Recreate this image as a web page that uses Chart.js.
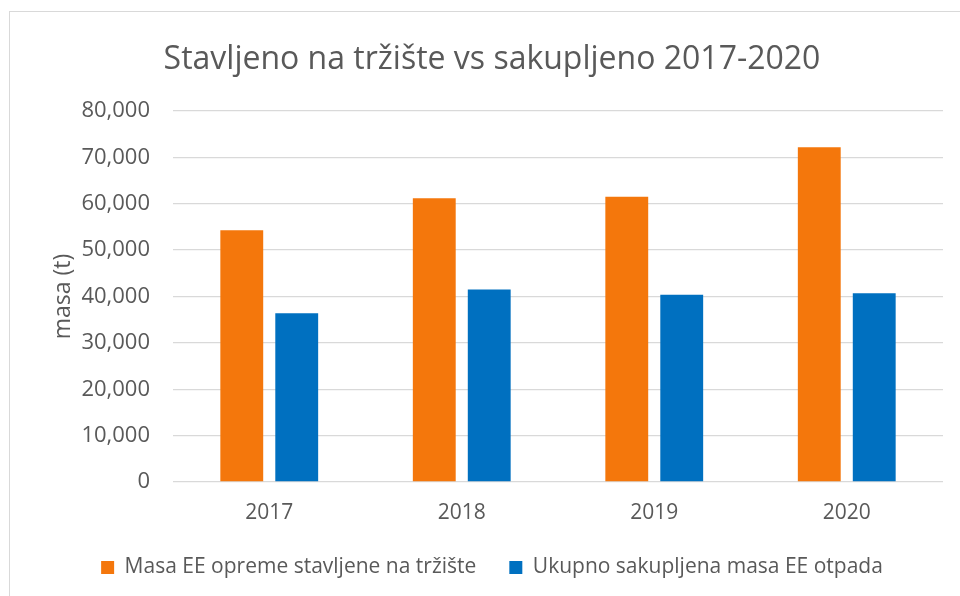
<!DOCTYPE html>
<html>
<head>
<meta charset="utf-8">
<script src="https://cdn.jsdelivr.net/npm/chart.js@4"></script>
<style>
  html, body { margin: 0; padding: 0; background: #fff; overflow: hidden; }
  #wrap { position: relative; width: 960px; height: 596px; }
  #frame { position: absolute; left: 9px; top: 11px; width: 1000px; height: 1000px; border: 1px solid #d9d9d9; box-sizing: border-box; pointer-events: none; }
</style>
</head>
<body>
<div id="wrap">
  <div id="frame"></div>
  <canvas id="c" width="960" height="596"></canvas>
</div>
<script>
const categories = ['2017', '2018', '2019', '2020'];
const seriesNames = ['Masa EE opreme stavljene na tržište', 'Ukupno sakupljena masa EE otpada'];
const placedOnMarket = [54300, 61200, 61500, 72200];
const collected = [36400, 41500, 40400, 40700];
const yTicks = [0, 10000, 20000, 30000, 40000, 50000, 60000, 70000, 80000];
const chartTitle = 'Stavljeno na tržište vs sakupljeno 2017-2020';
const yAxisTitle = 'masa (t)';

const FONT = "'Open Sans', 'DejaVu Sans', sans-serif";
const TEXT = '#595959';
const GRID = '#d9d9d9';

new Chart(document.getElementById('c'), {
  type: 'bar',
  data: {
    labels: categories,
    datasets: [
      { label: seriesNames[0], data: placedOnMarket, backgroundColor: '#F4770C', borderWidth: 0,
        barPercentage: 0.78, categoryPercentage: 0.571 },
      { label: seriesNames[1], data: collected, backgroundColor: '#0070C0', borderWidth: 0,
        barPercentage: 0.78, categoryPercentage: 0.571 }
    ]
  },
  options: {
    responsive: false,
    animation: false,
    devicePixelRatio: 1,
    layout: { padding: { left: 24, right: 0, top: 0, bottom: 8 } },
    plugins: {
      title: {
        display: true,
        text: chartTitle,
        color: TEXT,
        font: { family: FONT, size: 32, weight: 'normal', lineHeight: 1.2 },
        padding: { top: 41, bottom: 31.6 }
      },
      legend: {
        display: true,
        position: 'bottom',
        labels: {
          color: TEXT,
          font: { family: FONT, size: 21 },
          boxWidth: 13,
          boxHeight: 13,
          padding: 33
        }
      },
      tooltip: { enabled: false }
    },
    scales: {
      x: {
        grid: { display: false, drawTicks: false },
        border: { display: false },
        ticks: { color: TEXT, font: { family: FONT, size: 21 }, padding: 18, maxRotation: 0 },
        afterFit: s => { s.height = 42; }
      },
      y: {
        min: 0,
        max: 80000,
        grid: { color: GRID, lineWidth: 1.3, drawTicks: false },
        border: { display: false },
        afterBuildTicks: s => { s.ticks = yTicks.map(v => ({ value: v })); },
        ticks: {
          color: TEXT,
          font: { family: FONT, size: 22 },
          padding: 23,
          callback: v => v.toLocaleString('en-US')
        },
        title: {
          display: true,
          text: yAxisTitle,
          color: TEXT,
          font: { family: FONT, size: 23, lineHeight: 1.2 },
          padding: { top: 26, bottom: 0 }
        },
        afterFit: s => { s.width = 149; }
      },
      y2: {
        position: 'right',
        display: true,
        min: 0,
        max: 80000,
        grid: { display: false, drawTicks: false },
        border: { display: false },
        ticks: { display: false },
        afterFit: s => { s.width = 17; }
      }
    }
  }
});
</script>
</body>
</html>
